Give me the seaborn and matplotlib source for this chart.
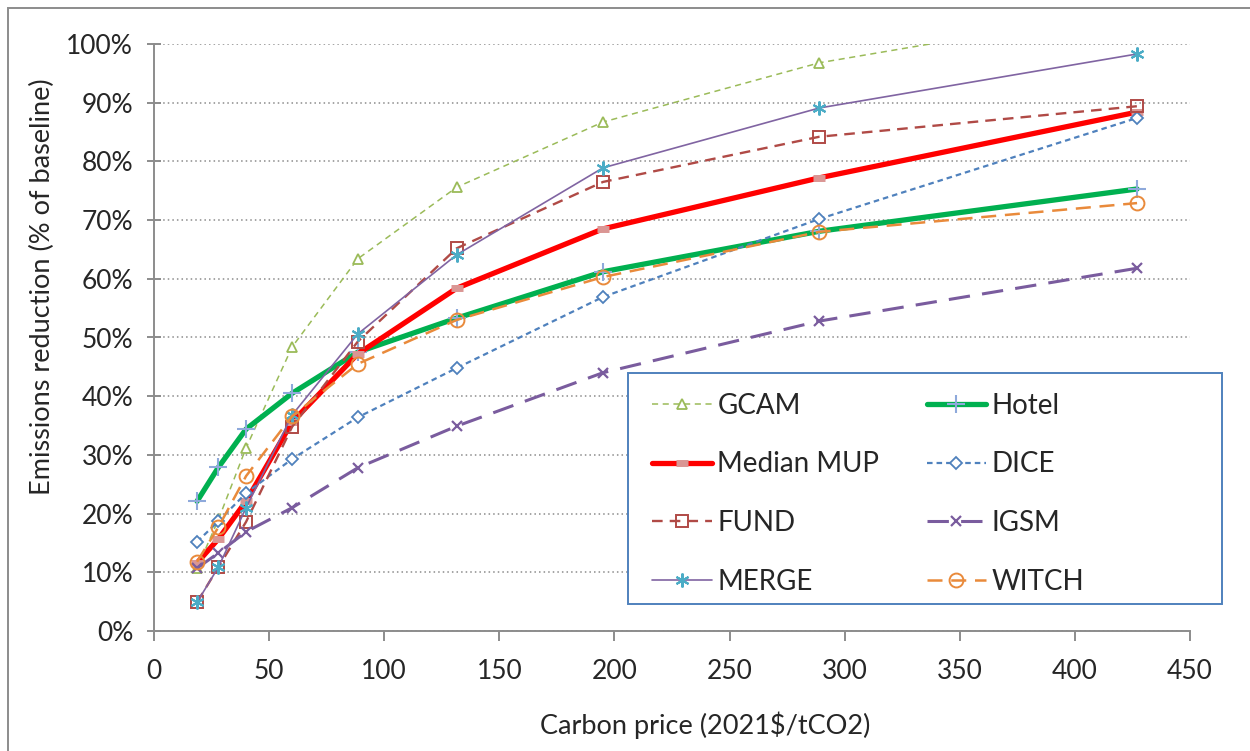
import numpy as np
import pandas as pd
import matplotlib
matplotlib.use('Agg')
import matplotlib.pyplot as plt
import seaborn as sns
from matplotlib.patches import Rectangle
from matplotlib.ticker import PercentFormatter, MultipleLocator

# carbon price points (2021$/tCO2)
price = [18.7, 28, 40, 60, 88.5, 131.5, 195, 289, 427]

# emissions reduction, % of baseline
gcam = [10.7, 19, 31.2, 48.4, 63.4, 75.6, 86.7, 96.8, 106]
hotel = [22.1, 27.9, 34.4, 40.5, 47.5, 53.3, 61.2, 68.1, 75.3]
median_mup = [11.6, 15.7, 22.1, 35.6, 47.2, 58.4, 68.5, 77.2, 88.4]
dice = [15.2, 18.7, 23.5, 29.3, 36.4, 44.8, 56.9, 70.2, 87.4]
fund = [4.9, 10.9, 18.6, 34.8, 49.3, 65.2, 76.5, 84.2, 89.4]
igsm = [10.7, 13.3, 16.9, 21.0, 27.8, 34.9, 44.0, 52.8, 61.8]
merge = [4.9, 10.9, 21.0, 36.8, 50.6, 64.1, 78.9, 89.1, 98.3]
witch = [11.8, 17.7, 26.4, 36.6, 45.5, 53.0, 60.3, 68.0, 72.9]

series = {
    'GCAM': gcam, 'Hotel': hotel, 'Median MUP': median_mup, 'DICE': dice,
    'FUND': fund, 'IGSM': igsm, 'MERGE': merge, 'WITCH': witch,
}

# line / marker styling per model
styles = {
    'GCAM': dict(color='#9BBB59', lw=1.1, ls=(0, (4, 3)), marker='^', ms=7,
                 mfc='white', mec='#9BBB59', mew=1.3),
    'Hotel': dict(color='#00B050', lw=3.8, ls='-', marker='+', ms=13,
                  mfc='none', mec='#8EA9DB', mew=1.5),
    'Median MUP': dict(color='#FF0000', lw=3.8, ls='-', marker='_', ms=9,
                       mfc='none', mec='#DA9694', mew=5),
    'DICE': dict(color='#4F81BD', lw=1.6, ls=(0, (2.5, 1.8)), marker='D', ms=6,
                 mfc='white', mec='#4F81BD', mew=1.3),
    'FUND': dict(color='#B04A46', lw=1.7, ls=(0, (4.5, 3)), marker='s', ms=9,
                 mfc='none', mec='#B04A46', mew=1.4),
    'IGSM': dict(color='#7A5C9E', lw=2.2, ls=(0, (7, 4)), marker='x', ms=7,
                 mfc='none', mec='#7A5C9E', mew=1.6),
    'MERGE': dict(color='#8064A2', lw=1.2, ls='-', marker=(6, 2, 0), ms=10,
                  mfc='none', mec='#4BACC6', mew=1.5),
    'WITCH': dict(color='#E98A3B', lw=1.8, ls=(0, (6, 3.5)), marker='o', ms=10,
                  mfc='none', mec='#E98A3B', mew=1.4),
}

rows = []
for name, vals in series.items():
    for p, v in zip(price, vals):
        rows.append({'model': name, 'price': p, 'reduction': v / 100})
df = pd.DataFrame(rows)

sns.set_theme(style='white')
plt.rcParams['font.family'] = ['Lato', 'DejaVu Sans']

fig = plt.figure(figsize=(12.5, 7.51), dpi=100)
ax = fig.add_axes([154 / 1250, 1 - 631 / 751, (1190 - 154) / 1250, (631 - 44) / 751])

for name in series:
    st = styles[name]
    sub = df[df['model'] == name]
    sns.lineplot(data=sub, x='price', y='reduction', ax=ax, label=name,
                 color=st['color'], linewidth=st['lw'], linestyle=st['ls'],
                 marker=st['marker'], markersize=st['ms'], markerfacecolor=st['mfc'],
                 markeredgecolor=st['mec'], markeredgewidth=st['mew'], sort=False)

ax.set_xlim(0, 450)
ax.set_ylim(0, 1.0)
ax.xaxis.set_major_locator(MultipleLocator(50))
ax.yaxis.set_major_locator(MultipleLocator(0.1))
ax.yaxis.set_major_formatter(PercentFormatter(1.0, decimals=0))

ax.grid(axis='y', color='#8C8C8C', linestyle=(0, (1, 2)), linewidth=1.1)
ax.grid(axis='x', visible=False)
for s in ['top', 'right']:
    ax.spines[s].set_visible(False)
for s in ['left', 'bottom']:
    ax.spines[s].set_color('#8C8C8C')
    ax.spines[s].set_linewidth(1.4)

ax.tick_params(axis='x', direction='out', length=7, width=1.4, color='#8C8C8C',
               labelsize=19, pad=13, bottom=True)
ax.tick_params(axis='y', direction='inout', length=10, width=1.4, color='#8C8C8C',
               labelsize=19, pad=10, left=True)

ax.set_xlabel('Carbon price (2021$/tCO2)', fontsize=19.5)
ax.set_ylabel('Emissions reduction (% of baseline)', fontsize=19.5)
ax.xaxis.set_label_coords((705 - 154) / 1036, (631 - 725) / 587)
ax.xaxis.label.set_va('center')
ax.yaxis.set_label_coords((42 - 154) / 1036, (631 - 287) / 587)
ax.yaxis.label.set_va('center')

handles, labels = ax.get_legend_handles_labels()
# two columns, row-wise order as in the original
order = [0, 2, 4, 6, 1, 3, 5, 7]
leg = ax.legend([handles[i] for i in order], [labels[i] for i in order],
                ncol=2, loc='upper left',
                bbox_to_anchor=((652 - 154) / 1036, (631 - 393) / 587),
                borderaxespad=0, borderpad=0, fontsize=20, handlelength=2.15,
                handletextpad=0.2, labelspacing=1.17, columnspacing=1.7,
                numpoints=1, frameon=False)
leg.set_zorder(6)

# legend box (wider than the entries, as in the original)
ax.add_patch(Rectangle(((628 - 154) / 1036, (631 - 604) / 587), 594 / 1036, 231 / 587,
                       transform=ax.transAxes, facecolor='white', edgecolor='#4F81BD',
                       linewidth=1.4, clip_on=False, zorder=5))

# outer chart border
fig.patches.append(Rectangle((8 / 1250, -0.05), 1.2, 1.05 - 8 / 751,
                             transform=fig.transFigure, fill=False,
                             edgecolor='#8C8C8C', linewidth=1.4))

fig.savefig('out.png', dpi=100, facecolor='white')
